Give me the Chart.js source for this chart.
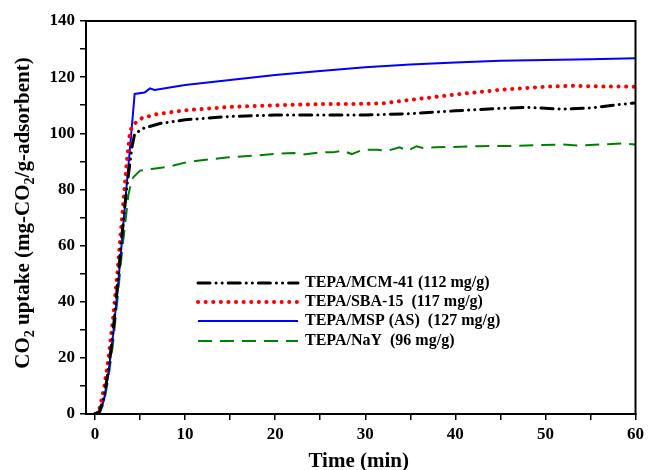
<!DOCTYPE html>
<html>
<head>
<meta charset="utf-8">
<script src="https://cdn.jsdelivr.net/npm/chart.js@4"></script>
<style>
  html, body { margin: 0; padding: 0; background: #fff; }
  #wrap { width: 648px; height: 470px; }
</style>
</head>
<body>
<div id="wrap"><canvas id="uptakeChart" width="648" height="470"></canvas></div>
<script>
// series data (time in min, uptake in mg CO2 / g adsorbent)
const mcmTime = [0, 0.5, 1, 1.5, 2, 2.5, 3, 3.5, 3.9, 4.1, 4.4, 5.4, 7.2, 10, 15, 20, 25, 30, 35, 40, 45, 48, 52, 55, 58, 60];
const mcmUptake = [0, 1, 6, 16, 29, 46, 64, 80, 90, 95, 99.8, 101.8, 103.5, 104.8, 106, 106.5, 106.5, 106.5, 107, 108, 108.9, 109.2, 108.6, 109, 110.2, 110.8];

const sbaTime = [0, 0.5, 1, 1.5, 2, 2.5, 3, 3.5, 3.9, 4.4, 5.2, 6.8, 10, 15, 20, 25, 30, 32, 35, 40, 45, 50, 53, 56, 60];
const sbaUptake = [0, 2, 9, 20, 34, 51, 70, 89, 101, 103.5, 105.4, 106.8, 108.2, 109.4, 110, 110.4, 110.5, 110.7, 111.9, 113.8, 115.5, 116.6, 116.9, 116.7, 116.6];

const mspTime = [0, 0.5, 1, 1.5, 2, 2.5, 3, 3.5, 4, 4.4, 5.5, 6.1, 6.6, 10, 15, 20, 25, 30, 35, 40, 45, 50, 55, 60];
const mspUptake = [0, 0.5, 5, 15, 28, 44, 62, 81, 99, 114, 114.5, 116, 115.4, 117.2, 119, 120.8, 122.2, 123.5, 124.5, 125.2, 125.8, 126.1, 126.4, 126.7];

const nayTime = [0, 0.5, 1, 1.5, 2, 2.5, 3, 3.5, 3.7, 4.1, 4.3, 5, 6.3, 7.8, 8.7, 10.2, 11.6, 14.6, 17.5, 19.8, 22, 23.1, 24.9, 26.4, 27.5, 28.5, 29.7, 31.4, 32.5, 33.8, 34.7, 35.7, 36.4, 37.9, 42.7, 46.4, 51.9, 53.8, 58.6, 60];
const nayUptake = [0, 0.3, 4, 13, 25, 41, 58, 72, 78, 83.6, 84.5, 86.7, 87.3, 87.9, 88.5, 89.7, 90.3, 91.4, 92, 92.6, 93, 92.4, 93.2, 93.2, 93.8, 92.6, 94.1, 94.1, 93.8, 95, 93.8, 95.4, 94.8, 95, 95.4, 95.5, 96, 95.6, 96.4, 96];

const seriesLabels = [
    'TEPA/MCM-41 (112 mg/g)',
    'TEPA/SBA-15  (117 mg/g)',
    'TEPA/MSP (AS)  (127 mg/g)',
    'TEPA/NaY  (96 mg/g)'
];

const xTicks = [0, 5, 10, 15, 20, 25, 30, 35, 40, 45, 50, 55, 60];
const yTicks = [0, 10, 20, 30, 40, 50, 60, 70, 80, 90, 100, 110, 120, 130, 140];

const FONT = "'Liberation Serif', 'Times New Roman', serif";

function toPoints(xs, ys) {
    return xs.map((x, i) => ({ x: x, y: ys[i] }));
}

// frame, y title with subscripts and the legend
const decorPlugin = {
    id: 'decor',
    afterDraw(chart) {
        const ctx = chart.ctx;
        const a = chart.chartArea;
        ctx.save();
        ctx.strokeStyle = '#000';
        ctx.lineWidth = 2;
        ctx.strokeRect(a.left, a.top, a.right - a.left, a.bottom - a.top);

        // x title
        ctx.fillStyle = '#000';
        ctx.font = 'bold 21px ' + FONT;
        ctx.textAlign = 'center';
        ctx.textBaseline = 'alphabetic';
        ctx.fillText('Time (min)', (a.left + a.right) / 2 - 2, 467);

        // y title, rotated, with subscript 2
        const parts = [
            ['CO', false], ['2', true], [' uptake (mg-CO', false], ['2', true], ['/g-adsorbent)', false]
        ];
        const big = 'bold 21px ' + FONT;
        const small = 'bold 14px ' + FONT;
        let total = 0;
        parts.forEach(p => { ctx.font = p[1] ? small : big; total += ctx.measureText(p[0]).width; });
        ctx.translate(29, 213);
        ctx.rotate(-Math.PI / 2);
        ctx.textAlign = 'left';
        let x = -total / 2;
        parts.forEach(p => {
            ctx.font = p[1] ? small : big;
            ctx.fillText(p[0], x, p[1] ? 5 : 0);
            x += ctx.measureText(p[0]).width;
        });
        ctx.restore();

        // legend
        ctx.save();
        const rows = [283, 302, 321, 341];
        chart.data.datasets.forEach((ds, i) => {
            const y = rows[i];
            ctx.strokeStyle = ds.borderColor;
            ctx.lineWidth = ds.borderWidth;
            ctx.lineCap = ds.borderCapStyle || 'butt';
            ctx.setLineDash(ds.borderDash || []);
            ctx.beginPath();
            ctx.moveTo(198, y);
            ctx.lineTo(298, y);
            ctx.stroke();
            ctx.setLineDash([]);
            ctx.fillStyle = '#000';
            ctx.font = 'bold 16px ' + FONT;
            ctx.textAlign = 'left';
            ctx.textBaseline = 'middle';
            ctx.fillText(seriesLabels[i], 305, y);
        });
        ctx.restore();
    }
};

const ctxUptake = document.getElementById('uptakeChart').getContext('2d');

const uptakeChart = new Chart(ctxUptake, {
    type: 'line',
    data: {
        datasets: [
            {
                label: seriesLabels[0],
                data: toPoints(mcmTime, mcmUptake),
                borderColor: '#000000',
                borderWidth: 3,
                borderDash: [12, 6, 0.1, 6, 0.1, 6],
                borderCapStyle: 'round',
            },
            {
                label: seriesLabels[1],
                data: toPoints(sbaTime, sbaUptake),
                borderColor: '#ff0000',
                borderWidth: 4,
                borderDash: [0.1, 7.5],
                borderCapStyle: 'round',
            },
            {
                label: seriesLabels[2],
                data: toPoints(mspTime, mspUptake),
                borderColor: '#0000ff',
                borderWidth: 2,
            },
            {
                label: seriesLabels[3],
                data: toPoints(nayTime, nayUptake),
                borderColor: '#008000',
                borderWidth: 2,
                borderDash: [14, 8],
            },
        ],
    },
    options: {
        responsive: false,
        animation: false,
        layout: {
            padding: { top: 21, right: 12, left: 0, bottom: 0 },
        },
        elements: {
            point: { radius: 0 },
            line: { tension: 0, fill: false },
        },
        scales: {
            x: {
                type: 'linear',
                min: -1,
                max: 60,
                afterBuildTicks: s => { s.ticks = xTicks.map(v => ({ value: v })); },
                afterFit: s => { s.height = 56; },
                ticks: {
                    autoSkip: false,
                    maxRotation: 0,
                    padding: 4,
                    color: '#000',
                    font: { family: FONT, size: 17, weight: 'bold' },
                    callback: v => (v % 10 === 0 ? v : ''),
                },
                grid: {
                    drawOnChartArea: false,
                    drawTicks: true,
                    tickLength: 6,
                    color: '#000',
                    lineWidth: 1.5,
                },
                border: { display: true, color: '#000', width: 2 },
            },
            y: {
                min: 0,
                max: 140,
                afterBuildTicks: s => { s.ticks = yTicks.map(v => ({ value: v })); },
                afterFit: s => { s.width = 86; },
                ticks: {
                    autoSkip: false,
                    padding: 5,
                    color: '#000',
                    font: { family: FONT, size: 17, weight: 'bold' },
                    callback: v => (v % 20 === 0 ? v : ''),
                },
                grid: {
                    drawOnChartArea: false,
                    drawTicks: true,
                    tickLength: 6,
                    color: '#000',
                    lineWidth: 1.5,
                },
                border: { display: true, color: '#000', width: 2 },
            },
        },
        plugins: {
            legend: { display: false },
            tooltip: { enabled: false },
        },
    },
    plugins: [decorPlugin],
});
</script>
</body>
</html>
